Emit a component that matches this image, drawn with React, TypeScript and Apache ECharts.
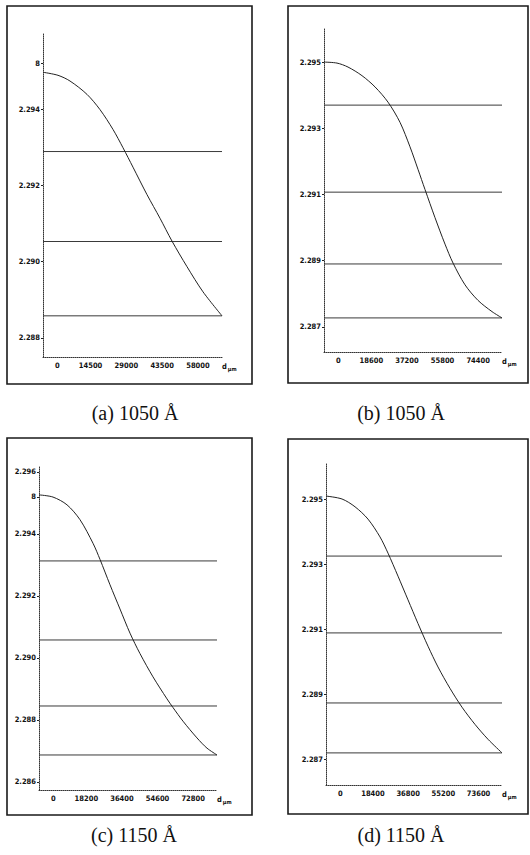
import React, { useEffect, useRef } from "react";
import * as echarts from "echarts";

// ---------- data ----------
// Panel (a) 1050 Å
const A_CURVE_X = [0, 6075, 10935, 17820, 23085, 28350, 32400, 36450, 42120, 47390, 52250, 58320, 64800, 72500];
const A_CURVE_Y = [2.29497, 2.29489, 2.29474, 2.29439, 2.29399, 2.29347, 2.29299, 2.29248, 2.29176, 2.29114, 2.29054, 2.28987, 2.28921, 2.28858];
const A_LEVELS = [2.29289, 2.29053, 2.28858];
const A_XTICKS = [0, 14500, 29000, 43500, 58000, 72500];
const A_YTICKS = [2.288, 2.29, 2.292, 2.294, 2.2952];

// Panel (b) 1050 Å
const B_CURVE_X = [0, 6790, 12540, 19850, 26650, 33440, 39710, 44930, 49110, 52770, 57990, 63220, 67400, 73670, 80460, 87780, 93000];
const B_CURVE_Y = [2.295, 2.29497, 2.29485, 2.29459, 2.29425, 2.29379, 2.29318, 2.29244, 2.29176, 2.29115, 2.2903, 2.2895, 2.28893, 2.28827, 2.2878, 2.28746, 2.28727];
const B_LEVELS = [2.2937, 2.29107, 2.2889, 2.28727];
const B_XTICKS = [0, 18600, 37200, 55800, 74400, 93000];
const B_YTICKS = [2.287, 2.289, 2.291, 2.293, 2.295];

// Panel (c) 1150 Å
const C_CURVE_X = [0, 7160, 14310, 20960, 27600, 31180, 36300, 41400, 46520, 51630, 58280, 65430, 68500, 73610, 80770, 85880, 91000];
const C_CURVE_Y = [2.29526, 2.29519, 2.29494, 2.29446, 2.2937, 2.29318, 2.29236, 2.29158, 2.2908, 2.29014, 2.28939, 2.28868, 2.2884, 2.28796, 2.28742, 2.28709, 2.28687];
const C_LEVELS = [2.29313, 2.29058, 2.28845, 2.28687];
const C_XTICKS = [0, 18200, 36400, 54600, 72800, 91000];
const C_YTICKS = [2.286, 2.288, 2.29, 2.292, 2.294, 2.2952, 2.296];

// Panel (d) 1150 Å
const D_CURVE_X = [0, 8360, 15160, 21950, 28230, 32410, 37640, 42860, 48090, 53320, 58540, 64820, 71090, 77880, 84680, 92000];
const D_CURVE_Y = [2.29511, 2.29502, 2.29478, 2.2944, 2.29385, 2.29335, 2.29264, 2.29191, 2.29118, 2.29048, 2.28984, 2.28918, 2.2886, 2.28807, 2.28761, 2.28719];
const D_LEVELS = [2.29326, 2.29089, 2.28873, 2.28719];
const D_XTICKS = [0, 18400, 36800, 55200, 73600, 92000];
const D_YTICKS = [2.287, 2.289, 2.291, 2.293, 2.295];

const CAPTIONS = ["(a) 1050 Å", "(b) 1050 Å", "(c) 1150 Å", "(d) 1150 Å"];
const TRUNCATED_LABEL = 2.2952; // shown only as "8" in the reference

// ---------- layout ----------
const AX_FONT = '"Liberation Sans Narrow", "DejaVu Sans Condensed", "Liberation Sans", sans-serif';

const panels = [
  { cx: A_CURVE_X, cy: A_CURVE_Y, levels: A_LEVELS, xt: A_XTICKS, yt: A_YTICKS, yMin: 2.2875, yMax: 2.296,
    grid: { left: 43, top: 33, width: 179, height: 324 }, frame: [7, 6, 245, 378], cap: [135, 413] },
  { cx: B_CURVE_X, cy: B_CURVE_Y, levels: B_LEVELS, xt: B_XTICKS, yt: B_YTICKS, yMin: 2.28624, yMax: 2.29603,
    grid: { left: 324, top: 28, width: 178, height: 324 }, frame: [288, 6, 240, 377], cap: [401, 413] },
  { cx: C_CURVE_X, cy: C_CURVE_Y, levels: C_LEVELS, xt: C_XTICKS, yt: C_YTICKS, yMin: 2.28574, yMax: 2.29616,
    grid: { left: 39, top: 467, width: 178, height: 323 }, frame: [7, 438, 245, 377], cap: [134, 835] },
  { cx: D_CURVE_X, cy: D_CURVE_Y, levels: D_LEVELS, xt: D_XTICKS, yt: D_YTICKS, yMin: 2.2862, yMax: 2.29613,
    grid: { left: 326, top: 463, width: 176, height: 322 }, frame: [288, 439, 240, 375], cap: [401, 835] },
];

function buildOption() {
  const grid = panels.map((p) => ({ ...p.grid, containLabel: false, outerBoundsMode: "none" }));
  const xAxis = panels.map((p, i) => {
    const xMax = p.xt[p.xt.length - 1];
    return {
      type: "value",
      gridIndex: i,
      min: 0,
      max: xMax,
      interval: p.xt[1],
      splitLine: { show: false },
      axisLine: { show: true, onZero: false, lineStyle: { color: "#333", type: "dotted", width: 1 } },
      axisTick: { show: false },
      axisLabel: {
        showMinLabel: true,
        showMaxLabel: true,
        align: "left",
        margin: 4,
        fontSize: 7.5,
        fontWeight: "bold",
        fontFamily: AX_FONT,
        color: "#111",
        formatter: (v: number) => (v === 0 ? "{z|0}" : v === xMax ? "d{s|μm}" : String(v)),
        rich: {
          z: { padding: [0, 0, 0, 12], fontSize: 7.5, fontWeight: "bold", fontFamily: AX_FONT, color: "#111" },
          s: { fontSize: 5.5, fontWeight: "bold", fontFamily: AX_FONT, color: "#111", padding: [5, 0, 0, 1] },
        },
      },
    };
  });
  const yAxis = panels.map((p, i) => ({
    type: "value",
    gridIndex: i,
    min: p.yMin,
    max: p.yMax,
    splitLine: { show: false },
    axisLine: { show: true, lineStyle: { color: "#333", type: "dotted", width: 1 } },
    axisTick: { show: true, length: 2, customValues: p.yt, lineStyle: { color: "#222" } },
    axisLabel: {
      customValues: p.yt,
      margin: 3,
      fontSize: 7.5,
      fontWeight: "bold",
      fontFamily: AX_FONT,
      color: "#111",
      formatter: (v: number) => (Math.abs(v - TRUNCATED_LABEL) < 1e-7 ? "8" : v.toFixed(3)),
    },
  }));
  const series: any[] = [];
  panels.forEach((p, i) => {
    const xMax = p.xt[p.xt.length - 1];
    p.levels.forEach((lv) => {
      series.push({
        type: "line",
        xAxisIndex: i,
        yAxisIndex: i,
        data: [[0, lv], [xMax, lv]],
        showSymbol: false,
        silent: true,
        lineStyle: { color: "#3a3a3a", width: 1 },
      });
    });
    series.push({
      type: "line",
      xAxisIndex: i,
      yAxisIndex: i,
      data: p.cx.map((x, k) => [x, p.cy[k]]),
      showSymbol: false,
      smooth: 0.3,
      silent: true,
      lineStyle: { color: "#222", width: 1 },
    });
  });
  const graphic: any[] = [];
  panels.forEach((p, i) => {
    graphic.push({
      type: "rect",
      shape: { x: p.frame[0], y: p.frame[1], width: p.frame[2], height: p.frame[3] },
      style: { fill: "none", stroke: "#1a1a1a", lineWidth: 1.6 },
      silent: true,
    });
    graphic.push({
      type: "text",
      x: p.cap[0],
      y: p.cap[1],
      style: {
        text: CAPTIONS[i],
        fontSize: 20,
        fontFamily: '"Liberation Serif", "DejaVu Serif", serif',
        fill: "#111",
        align: "center",
        verticalAlign: "middle",
      },
      silent: true,
    });
  });
  return {
    animation: false,
    backgroundColor: "#ffffff",
    grid,
    xAxis,
    yAxis,
    series,
    graphic,
  };
}

export default function App() {
  const ref = useRef<HTMLDivElement>(null);
  useEffect(() => {
    if (!ref.current) return;
    const chart = echarts.init(ref.current, undefined, { renderer: "svg" });
    chart.setOption(buildOption() as any);
    return () => chart.dispose();
  }, []);
  return (
    <div
      ref={ref}
      style={{ position: "absolute", left: 0, top: 0, width: 530, height: 855, background: "#fff" }}
    />
  );
}
